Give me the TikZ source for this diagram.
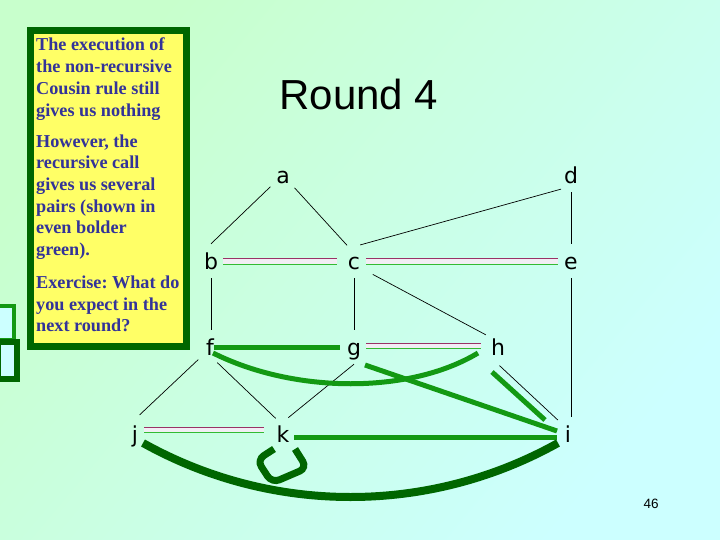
\documentclass[tikz,border=0pt]{standalone}
\usepackage{fontspec}
\setmainfont{Liberation Serif}
\newfontfamily\lsans{Liberation Sans}
\newfontfamily\dsans{DejaVu Sans}
\usetikzlibrary{calc}
\definecolor{bggreen}{HTML}{C8FFCC}
\definecolor{bgmid}{HTML}{CCFFEC}
\definecolor{bgcyan}{HTML}{CCFFFF}
\definecolor{boxfill}{HTML}{FFFF66}
\definecolor{darkgr}{HTML}{006600}
\definecolor{midgr}{HTML}{139913}
\definecolor{txtblue}{HTML}{333399}
\definecolor{redl}{HTML}{993366}
\definecolor{greenl}{HTML}{33BB33}
\definecolor{bandcol}{HTML}{F2EEF4}
\tikzset{
  vert/.style={circle, minimum size=34pt, inner sep=0pt, font=\dsans\fontsize{22}{22}\selectfont, text height=16.5pt, text depth=0pt},
  thin/.style={draw=black, line width=0.7pt},
  thick green/.style={draw=midgr, line width=5pt},
  dark green/.style={draw=darkgr, line width=8pt},
}
\newcommand{\dblline}[6]{%
  \fill[bandcol] ([shift={(#3,#5)}]#1.center) rectangle ([shift={(#4,#6)}]#2.center);
  \draw[redl, line width=1pt] ([shift={(#3,#5)}]#1.center) -- ([shift={(#4,#5)}]#2.center);
  \draw[greenl, line width=1pt] ([shift={(#3,#6)}]#1.center) -- ([shift={(#4,#6)}]#2.center);}
\begin{document}
\begin{tikzpicture}[x=1pt, y=-1pt]
\useasboundingbox (0,0) rectangle (720,540);
\shade[shading=axis, top color=bggreen, middle color=bgmid, bottom color=bgcyan, shading angle=50] (0,0) rectangle (720,540);
% side rectangles
\draw[midgr, line width=4pt, fill=bgcyan] (-10,306) rectangle (14,340);
\draw[darkgr, line width=6pt, fill=bgcyan] (-2,342) rectangle (17,379);
% text box
\draw[darkgr, line width=7pt, fill=boxfill] (30.5,30.5) rectangle (186.5,346.5);
\node[anchor=base west, inner sep=0pt, text=txtblue] (txt) at (36,51) {\parbox[t]{150pt}{\raggedright\frenchspacing\bfseries\fontsize{18.2}{21.7}\selectfont
The execution of\\ the non-recursive\\ Cousin rule still\\ gives us nothing\\[9.4pt]
However, the\\ recursive call\\ gives us several\\ pairs (shown in\\ even bolder\\ green).\\[11pt]
Exercise: What do\\ you expect in the\\ next round?}};
% title
\node[anchor=base, inner sep=0pt, font=\lsans\fontsize{42}{42}\selectfont] (title) at (359,110) {Round 4};
\node[anchor=base, inner sep=0pt, font=\lsans\fontsize{13.5}{13.5}\selectfont] (pg) at (651,508) {46};
% vertices
\node[vert] (a) at (283,175) {a};
\node[vert] (d) at (571,175) {d};
\node[vert] (b) at (211,261) {b};
\node[vert] (c) at (354,261) {c};
\node[vert] (e) at (571,261) {e};
\node[vert] (f) at (210,347) {f};
\node[vert] (g) at (354,347) {g};
\node[vert] (h) at (498,347) {h};
\node[vert] (j) at (135,434) {j};
\node[vert] (k) at (283,434) {k};
\node[vert] (i) at (568,434) {i};
% thin edges
\draw[thin] (a.223) -- (b.90);
\draw[thin] (a.312) -- (c.114);
\draw[thin] (d.235) -- (c.69);
\draw[thin] (d.270) -- (e.90);
\draw[thin] (b.270) -- (b.270 |- f.90);
\draw[thin] (c.270) -- (g.90);
\draw[thin, shorten <=6pt] (c.322) -- (h.135);
\draw[thin] (e.270) -- (e.270 |- i.90);
\draw[thin, shorten >=3pt] (f.227) -- (j.82);
\draw[thin] (f.295) -- (k.115);
\draw[thin] (g.270) -- (k.72);
\draw[thin, shorten <=2pt] (h.270) -- (i.126);
% double lines
\dblline{b}{c}{12}{-17}{-3}{3}
\dblline{c}{e}{12}{-13}{-3}{3}
\dblline{g}{h}{12}{-17}{-4}{1}
\dblline{j}{k}{9}{-19}{-7}{-2}
% thick green edges
\draw[thick green] ([shift={(4,0)}]f.center) -- ([shift={(-14,0)}]g.center);
\draw[thick green] ([shift={(3,6)}]f.center) .. controls +(82,41) and +(-68,41) .. ([shift={(-20,6)}]h.center);
\draw[thick green] ([shift={(11,18)}]g.center) -- ([shift={(-11,-3)}]i.center);
\draw[thick green] ([shift={(-6,25)}]h.center) -- ([shift={(-23,-14)}]i.center);
\draw[thick green] ([shift={(11,3)}]k.center) -- ([shift={(-11,3)}]i.center);
% dark green
\draw[dark green] ([shift={(8,9)}]j.center) .. controls +(129,72) and +(-129,72) .. ([shift={(-10,9)}]i.center);
\draw[darkgr, line width=7pt, rounded corners=8pt, shift={(k.center)}] (-9,15) -- (-26,26) -- (-11,49) -- (24,34) -- (12,15);
\end{tikzpicture}
\end{document}
